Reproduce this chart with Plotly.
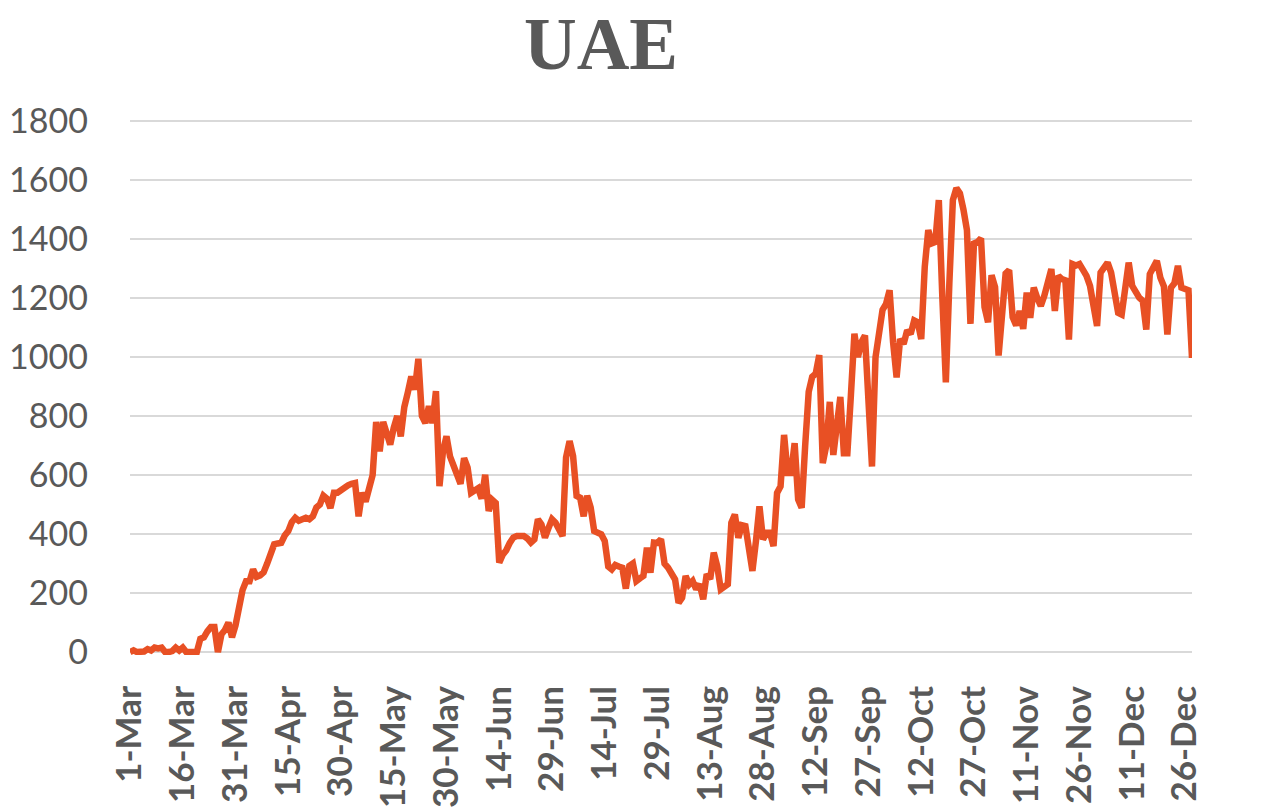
import pandas as pd
import plotly.graph_objects as go

# Daily new cases, UAE, 1-Mar .. 29-Dec (2020)
mar = [0, 6, 0, 0, 2, 10, 5, 15, 12, 15, 0, 0, 3, 15, 5, 15, 0, 0, 0, 0,
       45, 50, 70, 85, 85, 0, 60, 75, 100, 50, 90]
apr = [150, 210, 240, 240, 280, 255, 260, 270, 300, 340, 365, 368, 370, 395, 410,
       440, 455, 445, 450, 455, 450, 460, 490, 500, 530, 520, 488, 540, 540, 550]
may = [555, 565, 570, 573, 460, 540, 510, 560, 600, 780, 680, 780, 740, 703, 760,
       800, 731, 830, 880, 934, 889, 994, 800, 776, 833, 776, 884, 562, 680, 731, 663]
jun = [630, 607, 570, 657, 625, 540, 545, 555, 520, 601, 478, 516, 505, 303, 330,
       345, 370, 388, 393, 393, 393, 385, 371, 382, 450, 433, 388, 420, 450, 438]
jul = [410, 393, 660, 715, 664, 529, 523, 460, 530, 490, 410, 405, 399, 376, 290,
       280, 295, 290, 286, 215, 292, 300, 241, 250, 258, 354, 269, 371, 370, 382, 300]
aug = [286, 260, 246, 167, 184, 258, 229, 241, 213, 230, 179, 264, 247, 337, 290,
       213, 225, 230, 438, 466, 387, 430, 427, 340, 275, 376, 494, 382, 404, 404, 359]
sep = [539, 562, 736, 607, 607, 708, 517, 489, 700, 882, 933, 944, 1006, 640, 700,
       848, 668, 775, 865, 674, 674, 870, 1079, 1000, 1050, 1073, 830, 629, 999, 1100]
oct_ = [1160, 1180, 1226, 1050, 931, 1061, 1044, 1090, 1078, 1124, 1118, 1061, 1305,
        1430, 1385, 1390, 1532, 1203, 914, 1250, 1532, 1572, 1555, 1500, 1430, 1112,
        1385, 1390, 1402, 1169, 1118]
nov = [1277, 1237, 1005, 1150, 1283, 1294, 1135, 1107, 1156, 1095, 1218, 1133, 1235,
       1200, 1173, 1207, 1258, 1298, 1156, 1275, 1264, 1260, 1059, 1315, 1310, 1315,
       1295, 1275, 1241, 1180]
dec = [1105, 1286, 1300, 1320, 1286, 1200, 1150, 1144, 1250, 1320, 1241, 1220, 1201,
       1190, 1093, 1281, 1310, 1326, 1269, 1240, 1076, 1235, 1250, 1309, 1235, 1230,
       1226, 997]

values = mar + apr + may + jun + jul + aug + sep + oct_ + nov + dec
dates = pd.date_range("2020-03-01", periods=len(values), freq="D")

tick_labels = ["1-Mar", "16-Mar", "31-Mar", "15-Apr", "30-Apr", "15-May", "30-May",
               "14-Jun", "29-Jun", "14-Jul", "29-Jul", "13-Aug", "28-Aug", "12-Sep",
               "27-Sep", "12-Oct", "27-Oct", "11-Nov", "26-Nov", "11-Dec", "26-Dec"]
tick_dates = pd.date_range("2020-03-01", periods=len(tick_labels), freq="15D")

y_ticks = [0, 200, 400, 600, 800, 1000, 1200, 1400, 1600, 1800]

fig = go.Figure()
fig.add_trace(go.Scatter(
    x=dates, y=values, mode="lines",
    line=dict(color="#E85024", width=6.5),
    showlegend=False,
))

# page body has an 8px default margin, so the figure is 8px smaller each way
fig.update_layout(
    width=1255, height=800,
    margin=dict(l=122, r=71, t=110, b=153, autoexpand=False),
    paper_bgcolor="white", plot_bgcolor="white",
    title=dict(
        text="<b>UAE</b>",
        x=593 / 1255, xanchor="center", xref="container",
        y=1 - 35 / 800, yanchor="middle", yref="container",
        font=dict(family="Liberation Serif", size=73, color="#595959"),
    ),
    xaxis=dict(
        range=[dates[0], dates[-1]], automargin=False,
        tickmode="array", tickvals=tick_dates, ticktext=tick_labels,
        tickangle=-90, showgrid=False, showline=False, zeroline=False,
        ticks="", ticklabelstandoff=23,
        tickfont=dict(family="Lato", size=35, color="#595959", weight="bold"),
    ),
    yaxis=dict(
        range=[-10, 1810], tickvals=y_ticks, automargin=False,
        showgrid=True, gridcolor="#d9d9d9", gridwidth=2,
        zeroline=True, zerolinecolor="#d9d9d9", zerolinewidth=2,
        showline=False, ticks="", ticklabelstandoff=41,
        tickfont=dict(family="Lato", size=34, color="#595959"),
    ),
)

fig.write_html("out.html")
